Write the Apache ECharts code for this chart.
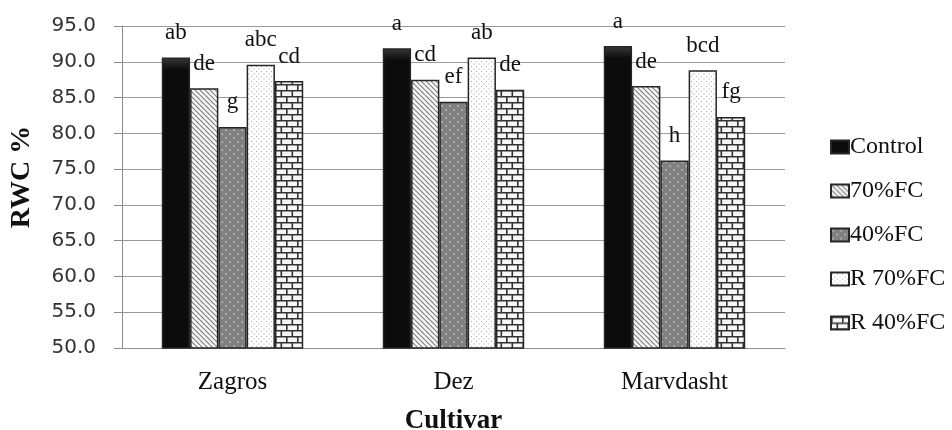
<!DOCTYPE html>
<html>
<head>
<meta charset="utf-8">
<script src="https://cdn.jsdelivr.net/npm/echarts@6/dist/echarts.min.js"></script>
<style>
html,body{margin:0;padding:0;background:#fff;}
#chart{width:952px;height:430px;}
</style>
</head>
<body>
<div id="chart"></div>
<script>
// ---- data ----
const categories = ['Zagros', 'Dez', 'Marvdasht'];
const seriesNames = ['Control', '70%FC', '40%FC', 'R 70%FC', 'R 40%FC'];
const control = [90.6, 91.9, 92.2];
const fc70 = [86.3, 87.5, 86.6];
const fc40 = [80.9, 84.4, 76.2];
const r70 = [89.6, 90.6, 88.8];
const r40 = [87.3, 86.1, 82.3];
const lettersControl = ['ab', 'a', 'a'];
const lettersFc70 = ['de', 'cd', 'de'];
const lettersFc40 = ['g', 'ef', 'h'];
const lettersR70 = ['abc', 'ab', 'bcd'];
const lettersR40 = ['cd', 'de', 'fg'];
const yMin = 50, yMax = 95, yStep = 5;

// ---- patterns (style only) ----
function makePattern(w, h, draw) {
  const c = document.createElement('canvas');
  c.width = w; c.height = h;
  const ctx = c.getContext('2d');
  draw(ctx, w, h);
  return c;
}
const patHatch = makePattern(5, 5, (ctx, w, h) => {
  ctx.fillStyle = '#f6f6f6'; ctx.fillRect(0, 0, w, h);
  ctx.strokeStyle = '#7a7a7a'; ctx.lineWidth = 1.1;
  ctx.beginPath();
  for (const k of [-w, 0, w]) { ctx.moveTo(k, 0); ctx.lineTo(k + w, h); }
  ctx.stroke();
});
const patGrayDots = makePattern(8, 8, (ctx, w, h) => {
  ctx.fillStyle = '#808080'; ctx.fillRect(0, 0, w, h);
  ctx.fillStyle = '#c8c8c8';
  ctx.fillRect(1.5, 1.5, 1.5, 1.5);
  ctx.fillRect(5.5, 5.5, 1.5, 1.5);
});
const patDots = makePattern(5, 5, (ctx, w, h) => {
  ctx.fillStyle = '#ffffff'; ctx.fillRect(0, 0, w, h);
  ctx.fillStyle = '#a8a8a8';
  ctx.fillRect(1, 1, 1, 1);
  ctx.fillRect(3.5, 3.5, 1, 1);
});
const patBrick = makePattern(11, 12, (ctx, w, h) => {
  ctx.fillStyle = '#f6f6f6'; ctx.fillRect(0, 0, w, h);
  ctx.strokeStyle = '#333333'; ctx.lineWidth = 1.6;
  ctx.beginPath();
  ctx.moveTo(0, 0.8); ctx.lineTo(w, 0.8);
  ctx.moveTo(0, 6.8); ctx.lineTo(w, 6.8);
  ctx.moveTo(0.8, 0); ctx.lineTo(0.8, 6.8);
  ctx.moveTo(6.3, 6.8); ctx.lineTo(6.3, h);
  ctx.stroke();
});

const fills = [
  { type: 'linear', x: 0, y: 0, x2: 0, y2: 1, colorStops: [
    { offset: 0, color: '#3a3a3a' }, { offset: 0.04, color: '#0c0c0c' }, { offset: 1, color: '#0c0c0c' }] },
  { image: patHatch, repeat: 'repeat' },
  { image: patGrayDots, repeat: 'repeat' },
  { image: patDots, repeat: 'repeat' },
  { image: patBrick, repeat: 'repeat' }
];
const values = [control, fc70, fc40, r70, r40];
const letters = [lettersControl, lettersFc70, lettersFc40, lettersR70, lettersR40];

const serif = '"Liberation Serif", "Times New Roman", serif';

const chart = echarts.init(document.getElementById('chart'), null, { renderer: 'canvas' });
chart.setOption({
  animation: false,
  backgroundColor: '#ffffff',
  grid: { left: 122, right: 167, top: 26, bottom: 82, containLabel: false, outerBoundsMode: 'none' },
  legend: {
    orient: 'vertical',
    left: 825,
    top: 130,
    itemWidth: 18,
    itemHeight: 13,
    itemGap: 20,
    icon: 'rect',
    textStyle: { fontFamily: serif, fontSize: 24, color: '#111', lineHeight: 24, padding: [0, 0, 0, -4] },
    data: seriesNames
  },
  xAxis: {
    type: 'category',
    data: categories,
    name: 'Cultivar',
    nameLocation: 'middle',
    nameGap: 60,
    nameTextStyle: { fontFamily: serif, fontSize: 27, fontWeight: 'bold', color: '#111' },
    axisLine: { lineStyle: { color: '#8c8c8c', width: 1 } },
    axisTick: { show: false },
    axisLabel: { fontFamily: serif, fontSize: 25, color: '#111', margin: 22 }
  },
  yAxis: {
    type: 'value',
    min: yMin, max: yMax, interval: yStep,
    name: 'RWC %',
    nameLocation: 'middle',
    nameGap: 86,
    nameTextStyle: { fontFamily: serif, fontSize: 28, fontWeight: 'bold', color: '#111', padding: [0, 0, 0, 20] },
    axisLine: { show: true, lineStyle: { color: '#8c8c8c', width: 1 } },
    axisTick: { show: true, length: 8, lineStyle: { color: '#8c8c8c' } },
    splitLine: { lineStyle: { color: '#9a9a9a', width: 1 } },
    axisLabel: {
      fontFamily: '"DejaVu Sans", sans-serif', fontSize: 20, color: '#333', margin: 26,
      formatter: v => v.toFixed(1)
    }
  },
  series: seriesNames.map((name, i) => ({
    name: name,
    type: 'bar',
    data: values[i],
    barGap: '0%',
    barCategoryGap: '36%',
    itemStyle: { color: fills[i], borderColor: '#262626', borderWidth: 1.5 },
    label: {
      show: true,
      position: 'top',
      distance: 13,
      fontFamily: serif,
      fontSize: 23,
      color: '#111',
      formatter: p => letters[i][p.dataIndex]
    }
  }))
});
</script>
</body>
</html>
